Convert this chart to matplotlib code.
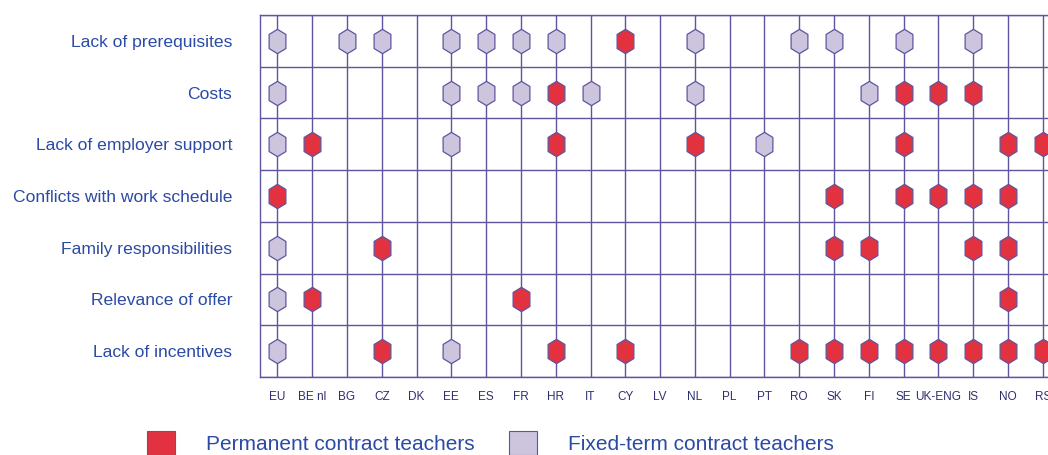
import matplotlib
matplotlib.use("Agg")
import matplotlib.pyplot as plt
from matplotlib.patches import Rectangle
import numpy as np

# datos
paises = ["EU", "BE nl", "BG", "CZ", "DK", "EE", "ES", "FR", "HR", "IT", "CY", "LV",
          "NL", "PL", "PT", "RO", "SK", "FI", "SE", "UK-ENG", "IS", "NO", "RS"]
motivos = ["Lack of prerequisites", "Costs", "Lack of employer support",
           "Conflicts with work schedule", "Family responsibilities",
           "Relevance of offer", "Lack of incentives"]

# P = permanent contract, F = fixed-term contract
lack_prerequisites = {"EU": "F", "BG": "F", "CZ": "F", "EE": "F", "ES": "F", "FR": "F",
                      "HR": "F", "CY": "P", "NL": "F", "RO": "F", "SK": "F", "SE": "F", "IS": "F"}
costs = {"EU": "F", "EE": "F", "ES": "F", "FR": "F", "HR": "P", "IT": "F", "NL": "F",
         "FI": "F", "SE": "P", "UK-ENG": "P", "IS": "P"}
employer_support = {"EU": "F", "BE nl": "P", "EE": "F", "HR": "P", "NL": "P", "PT": "F",
                    "SE": "P", "NO": "P", "RS": "P"}
work_schedule = {"EU": "P", "SK": "P", "SE": "P", "UK-ENG": "P", "IS": "P", "NO": "P"}
family = {"EU": "F", "CZ": "P", "SK": "P", "FI": "P", "IS": "P", "NO": "P"}
relevance = {"EU": "F", "BE nl": "P", "FR": "P", "NO": "P"}
incentives = {"EU": "F", "CZ": "P", "EE": "F", "HR": "P", "CY": "P", "RO": "P", "SK": "P",
              "FI": "P", "SE": "P", "UK-ENG": "P", "IS": "P", "NO": "P", "RS": "P"}
filas = [lack_prerequisites, costs, employer_support, work_schedule, family, relevance, incentives]

etiquetas_leyenda = ["Permanent contract teachers", "Fixed-term contract teachers"]

rojo = "#e2323f"
lila = "#cdc4de"
borde = "#5e55a0"
azul = "#2b4aa6"
navy = "#2e2f70"

# hexagono alargado en vertical
hexagono = np.array([[0, 1], [0.69, 0.58], [0.69, -0.58], [0, -1],
                     [-0.69, -0.58], [-0.69, 0.58], [0, 1]])

fig = plt.figure(figsize=(10.48, 4.55), dpi=100)
ax = fig.add_axes([260 / 1048, 1 - 377 / 455, 1 - 260 / 1048, (377 - 15) / 455])

n = len(motivos)
for i, fila in enumerate(filas):
    y = n - 1 - i
    for pais, tipo in fila.items():
        x = paises.index(pais)
        ax.plot(x, y, marker=hexagono, markersize=17.5, linestyle="none",
                markerfacecolor=rojo if tipo == "P" else lila,
                markeredgecolor=borde, markeredgewidth=0.9, zorder=3)

for x in range(len(paises)):
    ax.axvline(x, color=borde, lw=1.0, zorder=1)
for y in np.arange(-0.5, n, 1.0):
    ax.axhline(y, color=borde, lw=1.0, zorder=1)

ax.set_xlim(-0.5, 22.15)
ax.set_ylim(-0.5, n - 0.5)
ax.set_xticks(range(len(paises)))
ax.set_xticklabels(paises, fontfamily="Liberation Sans", fontsize=8.5, color=navy)
ax.set_yticks(range(n))
ax.set_yticklabels(motivos[::-1], fontfamily="Liberation Sans", fontsize=12.6, color=azul)
ax.tick_params(axis="both", length=0)
ax.tick_params(axis="x", pad=10)
ax.tick_params(axis="y", pad=20)
for lado in ["top", "bottom", "left"]:
    ax.spines[lado].set_color(borde)
    ax.spines[lado].set_linewidth(1.0)
ax.spines["right"].set_visible(False)

# leyenda
colores = [rojo, lila]
pos_x = [147, 509]
for c, px, texto in zip(colores, pos_x, etiquetas_leyenda):
    fig.add_artist(Rectangle((px / 1048, 0), 28 / 1048, 24 / 455, transform=fig.transFigure,
                             facecolor=c, edgecolor=borde, lw=0.8))
    fig.text((px + 59) / 1048, 1 - 444 / 455, texto, fontfamily="Liberation Sans",
             fontsize=15, color=azul, va="center", ha="left")

fig.savefig("out.png", dpi=100)
